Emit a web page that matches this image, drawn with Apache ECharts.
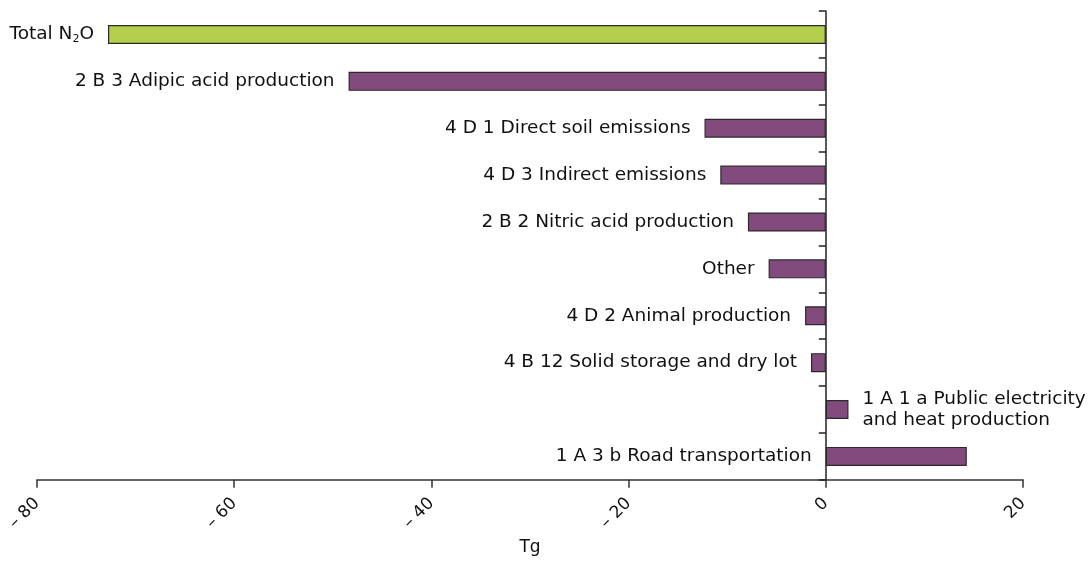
<!DOCTYPE html>
<html>
<head>
<meta charset="utf-8">
<script src="https://cdn.jsdelivr.net/npm/echarts@6/dist/echarts.min.js"></script>
<style>
html,body{margin:0;padding:0;background:#fff;}
#chart{width:1092px;height:561px;}
</style>
</head>
<body>
<div id="chart"></div>
<script>
const categories = [
  'Total N2O',
  '2 B 3 Adipic acid production',
  '4 D 1 Direct soil emissions',
  '4 D 3 Indirect emissions',
  '2 B 2 Nitric acid production',
  'Other',
  '4 D 2 Animal production',
  '4 B 12 Solid storage and dry lot',
  '1 A 1 a Public electricity\nand heat production',
  '1 A 3 b Road transportation'
];
const values = [-72.8, -48.4, -12.3, -10.7, -7.9, -5.8, -2.1, -1.5, 2.3, 14.3];
const xMin = -80, xMax = 20, xStep = 20;
const axisName = 'Tg';

const FONT = 'DejaVu Sans';
const PURPLE = '#834a7e';
const GREEN = '#b5ce4e';
const FS = 18.5;

const seriesData = values.map((v, i) => {
  const isTotal = i === 0;
  const labelRight = i === 8;
  return {
    value: v,
    itemStyle: { color: isTotal ? GREEN : PURPLE },
    label: {
      position: labelRight ? 'right' : 'left',
      align: labelRight ? 'left' : 'right'
    }
  };
});

const chart = echarts.init(document.getElementById('chart'));
chart.setOption({
  animation: false,
  backgroundColor: '#fff',
  grid: { left: 37, right: 69, top: 11, bottom: 79, containLabel: false },
  xAxis: {
    type: 'value',
    min: xMin, max: xMax, interval: xStep,
    name: axisName,
    nameLocation: 'middle',
    nameGap: 58,
    nameTextStyle: { fontFamily: FONT, fontSize: 17, color: '#111' },
    axisLine: { show: true, lineStyle: { color: '#333', width: 1.5 } },
    axisTick: { show: true, length: 8, lineStyle: { color: '#333', width: 1.5 } },
    splitLine: { show: false },
    axisLabel: {
      rotate: 45,
      margin: 21,
      fontFamily: FONT, fontSize: 17, color: '#111',
      formatter: v => (v < 0 ? '\u2013 ' + Math.abs(v) : String(v))
    }
  },
  yAxis: {
    type: 'category',
    inverse: true,
    data: categories,
    axisLine: { show: true, onZero: true, lineStyle: { color: '#222', width: 1.5 } },
    axisTick: { show: true, length: 7, lineStyle: { color: '#222', width: 1.5 } },
    axisLabel: { show: false },
    splitLine: { show: false }
  },
  series: [{
    type: 'bar',
    data: seriesData,
    barWidth: 19,
    itemStyle: { borderColor: '#2a2a2a', borderWidth: 1.2 },
    label: {
      show: true,
      distance: 14,
      fontFamily: FONT,
      fontSize: FS,
      color: '#111',
      lineHeight: 21,
      formatter: p => p.dataIndex === 0 ? '{a|Total N}{s|2}{a|O}' : p.name,
      rich: {
        a: { fontFamily: FONT, fontSize: FS, color: '#111' },
        s: { fontFamily: FONT, fontSize: 11, color: '#111', verticalAlign: 'bottom', padding: [12, 0, 0, 0] }
      }
    }
  }]
});
</script>
</body>
</html>
